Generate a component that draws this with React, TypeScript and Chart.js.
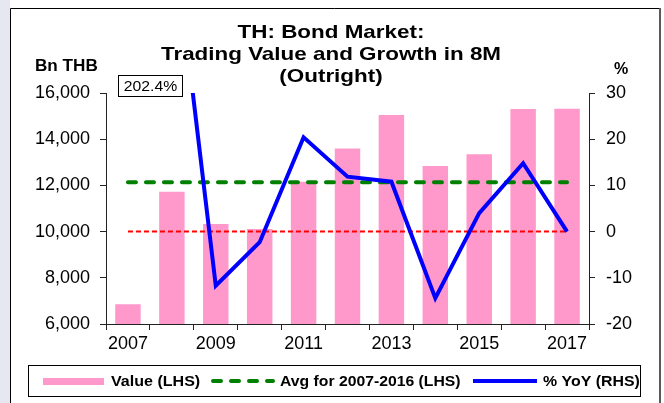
import React, { useEffect, useRef } from 'react';
import { Chart, registerables } from 'chart.js';

Chart.register(...registerables);

// ---------- data ----------
const years = ['2007', '2008', '2009', '2010', '2011', '2012', '2013', '2014', '2015', '2016', '2017'];
const tradingValue = [6850, 11730, 10330, 10110, 12160, 13600, 15050, 12840, 13350, 15310, 15320];
// plotted YoY (%); 2008 point lies far above the axis (line slope)
const yoyGrowth = [null, 68, -11.7, -2.3, 20.4, 11.9, 10.8, -14.4, 4.0, 14.8, 0.0];
const avgYears = tradingValue.slice(0, 10);
const avgValue = avgYears.reduce((a, b) => a + b, 0) / avgYears.length;
const avgSeries = years.map(() => avgValue);
const zeroLine = years.map(() => 0);
const calloutText = '202.4%';
const titleLines = ['TH: Bond Market:', 'Trading Value and Growth in 8M', '(Outright)'];
const leftUnit = 'Bn THB';
const rightUnit = '%';
const legendLabels = ['Value (LHS)', 'Avg for 2007-2016 (LHS)', '% YoY (RHS)'];
const leftRange = { min: 6000, max: 16000, step: 2000 };
const rightRange = { min: -20, max: 30, step: 10 };

const FONT = '"Liberation Sans", Arial, Helvetica, sans-serif';
const PINK = '#ff99cc';
const GREEN = '#008000';
const BLUE = '#0000ff';
const RED = '#ff0000';

function wideText(ctx: any, text: string, x: number, y: number, sx: number, align: 'left' | 'center') {
  ctx.save();
  ctx.translate(x, y);
  ctx.scale(sx, 1);
  ctx.textAlign = align;
  ctx.fillText(text, 0, 0);
  ctx.restore();
}

const decorPlugin = {
  id: 'decor',
  beforeDraw(chart: any) {
    const ctx = chart.ctx;
    const W = chart.width;
    const H = chart.height;
    ctx.save();
    ctx.fillStyle = '#ffffff';
    ctx.fillRect(0, 0, W, H);
    ctx.fillStyle = '#e7e7f1';
    ctx.fillRect(0, 0, 10, H);
    ctx.strokeStyle = '#000000';
    ctx.lineWidth = 1;
    ctx.beginPath();
    ctx.moveTo(10.5, H);
    ctx.lineTo(10.5, 8.5);
    ctx.lineTo(659, 8.5);
    ctx.stroke();
    ctx.strokeStyle = '#5a5a5a';
    ctx.lineWidth = 2;
    ctx.beginPath();
    ctx.moveTo(660, 8);
    ctx.lineTo(660, H);
    ctx.stroke();
    ctx.restore();
  },
  afterDraw(chart: any) {
    const ctx = chart.ctx;
    const xs = chart.scales.x;
    ctx.save();
    ctx.fillStyle = '#000';
    ctx.textBaseline = 'alphabetic';
    // title
    ctx.font = `bold 19px ${FONT}`;
    const tBase = [38, 60, 82];
    titleLines.forEach((t, i) => wideText(ctx, t, 331, tBase[i], 1.18, 'center'));
    // unit labels
    ctx.font = `bold 16px ${FONT}`;
    wideText(ctx, leftUnit, 35, 71, 1.07, 'left');
    wideText(ctx, rightUnit, 614, 74, 1.0, 'left');
    // callout box
    const cx = (xs.getPixelForValue(0) + xs.getPixelForValue(1)) / 2;
    ctx.font = `15px ${FONT}`;
    const bw = 64, bh = 21;
    const bx = Math.round(cx - bw / 2) + 0.5;
    const by = 75.5;
    ctx.fillStyle = '#fff';
    ctx.fillRect(bx, by, bw, bh);
    ctx.strokeStyle = '#000';
    ctx.lineWidth = 1;
    ctx.strokeRect(bx, by, bw, bh);
    ctx.fillStyle = '#000';
    ctx.textBaseline = 'middle';
    wideText(ctx, calloutText, bx + bw / 2, by + bh / 2 + 1, 1.05, 'center');
    // legend
    ctx.strokeStyle = '#000';
    ctx.lineWidth = 1;
    ctx.strokeRect(28.5, 365.5, 612, 31);
    const ly = 381;
    ctx.fillStyle = PINK;
    ctx.fillRect(43, 378, 61, 7);
    ctx.lineWidth = 4;
    ctx.strokeStyle = GREEN;
    ctx.setLineDash([8, 10]);
    ctx.lineCap = 'round';
    ctx.beginPath();
    ctx.moveTo(213, ly);
    ctx.lineTo(273, ly);
    ctx.stroke();
    ctx.setLineDash([]);
    ctx.lineCap = 'butt';
    ctx.strokeStyle = BLUE;
    ctx.beginPath();
    ctx.moveTo(473, ly);
    ctx.lineTo(537, ly);
    ctx.stroke();
    ctx.fillStyle = '#000';
    ctx.font = `bold 15px ${FONT}`;
    ctx.textBaseline = 'middle';
    wideText(ctx, legendLabels[0], 111, ly + 1, 1.07, 'left');
    wideText(ctx, legendLabels[1], 280, ly + 1, 1.05, 'left');
    wideText(ctx, legendLabels[2], 543, ly + 1, 1.06, 'left');
    ctx.restore();
  },
};

export default function App() {
  const ref = useRef<HTMLCanvasElement | null>(null);
  useEffect(() => {
    if (!ref.current) return;
    const chart = new Chart(ref.current, {
      type: 'bar',
      data: {
        labels: years,
        datasets: [
          {
            type: 'line',
            label: legendLabels[2],
            data: yoyGrowth,
            yAxisID: 'y1',
            borderColor: BLUE,
            backgroundColor: BLUE,
            borderWidth: 4,
            pointRadius: 0,
            borderJoinStyle: 'miter',
            tension: 0,
            spanGaps: false,
            order: 0,
          } as any,
          {
            type: 'line',
            label: 'zero',
            data: zeroLine,
            yAxisID: 'y1',
            borderColor: RED,
            borderWidth: 2,
            borderDash: [5, 3],
            pointRadius: 0,
            order: 1,
          } as any,
          {
            type: 'line',
            label: legendLabels[1],
            data: avgSeries,
            yAxisID: 'y',
            borderColor: GREEN,
            borderWidth: 4,
            borderDash: [8, 10],
            borderCapStyle: 'round',
            pointRadius: 0,
            order: 2,
          } as any,
          {
            type: 'bar',
            label: legendLabels[0],
            data: tradingValue,
            yAxisID: 'y',
            backgroundColor: PINK,
            borderWidth: 0,
            categoryPercentage: 1,
            barPercentage: 0.58,
            order: 3,
          } as any,
        ],
      },
      options: {
        responsive: false,
        animation: false,
        devicePixelRatio: 1,
        layout: { padding: { top: 93, bottom: 49, left: 0, right: 0 } },
        plugins: { legend: { display: false }, tooltip: { enabled: false }, title: { display: false } },
        scales: {
          x: {
            type: 'category',
            offset: true,
            grid: { offset: true, drawOnChartArea: false, drawTicks: true, tickLength: 6, color: '#222' },
            border: { color: '#222', width: 1 },
            ticks: {
              autoSkip: false,
              maxRotation: 0,
              padding: 3,
              color: '#000',
              font: { family: FONT, size: 18 },
              callback: (_v: any, i: number) => (i % 2 === 0 ? years[i] : ''),
            },
            afterFit: (s: any) => { s.height = 30; },
          },
          y: {
            position: 'left',
            min: leftRange.min,
            max: leftRange.max,
            grid: { drawOnChartArea: false, tickLength: 6, color: '#222' },
            border: { color: '#222', width: 1 },
            ticks: {
              stepSize: leftRange.step,
              padding: 10,
              color: '#000',
              font: { family: FONT, size: 18 },
              callback: (v: any) => Number(v).toLocaleString('en-US'),
            },
            afterFit: (s: any) => { s.width = 106; },
          },
          y1: {
            position: 'right',
            min: rightRange.min,
            max: rightRange.max,
            grid: { drawOnChartArea: false, tickLength: 6, color: '#222' },
            border: { color: '#222', width: 1 },
            ticks: {
              stepSize: rightRange.step,
              padding: 11,
              color: '#000',
              font: { family: FONT, size: 18 },
            },
            afterFit: (s: any) => { s.width = 75; },
          },
        },
      } as any,
      plugins: [decorPlugin],
    });
    return () => chart.destroy();
  }, []);
  return (
    <div style={{ position: 'absolute', left: 0, top: 0, width: 664, height: 403 }}>
      <canvas ref={ref} width={664} height={403} style={{ width: 664, height: 403, display: 'block' }} />
    </div>
  );
}
